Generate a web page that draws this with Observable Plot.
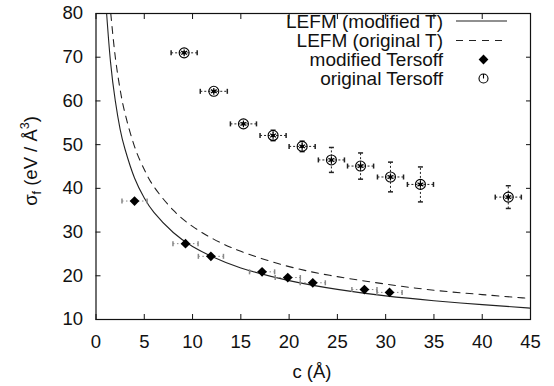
<!DOCTYPE html>
<html><head><meta charset="utf-8">
<script src="https://cdn.jsdelivr.net/npm/d3@7"></script>
<script src="https://cdn.jsdelivr.net/npm/@observablehq/plot@0.6"></script>
<style>body{margin:0;background:#fff} svg{font-family:"Liberation Sans",Arial,sans-serif}</style>
</head><body><div id="chart"></div>
<script>
// tick labels
const xTicks = [0, 5, 10, 15, 20, 25, 30, 35, 40, 45];
const yTicks = [10, 20, 30, 40, 50, 60, 70, 80];

// original Tersoff (circles)
const origC    = [9.13, 12.2, 15.27, 18.34, 21.35, 24.38, 27.4, 30.5, 33.6, 42.7];
const origS    = [71.0, 62.2, 54.75, 52.1, 49.6, 46.5, 45.1, 42.6, 40.9, 38.0];
const origXErr = [1.35, 1.4, 1.35, 1.35, 1.35, 1.35, 1.35, 1.35, 1.35, 1.35];
const origYErr = [0, 0, 0, 1.2, 1.2, 2.85, 3.0, 3.4, 4.0, 2.6];

// modified Tersoff (diamonds)
const modC    = [3.99, 9.27, 11.9, 17.2, 19.86, 22.45, 27.8, 30.4];
const modS    = [37.1, 27.35, 24.45, 20.9, 19.6, 18.4, 16.85, 16.2];
const modXErr = [1.3, 1.3, 1.3, 1.3, 1.3, 1.3, 1.3, 1.3];

// LEFM curves
const lefmModC = [1.1, 1.5, 2, 2.5, 3, 4, 5, 6, 8, 10, 12, 15, 20, 25, 30, 35, 40, 45];
const lefmModS = [80, 69, 60, 53.5, 49, 42.3, 37.8, 34.5, 29.9, 26.7, 24.4, 21.8, 18.9, 16.9, 15.4, 14.3, 13.4, 12.6];
const lefmOrigC = [1.53, 2, 2.5, 3, 4, 5, 6, 8, 10, 12, 15, 20, 25, 30, 35, 40, 45];
const lefmOrigS = [80, 70, 62.6, 57.2, 49.5, 44.3, 40.4, 35, 31.3, 28.6, 25.6, 22.1, 19.8, 18.1, 16.7, 15.7, 14.8];

const legendLabels = ["LEFM (modified T)", "LEFM (original T)", "modified Tersoff", "original Tersoff"];

const orig = origC.map((c, i) => ({c, s: origS[i], dx: origXErr[i], dy: origYErr[i]}));
const mod = modC.map((c, i) => ({c, s: modS[i], dx: modXErr[i]}));
const lm = lefmModC.map((c, i) => ({c, s: lefmModS[i]}));
const lo = lefmOrigC.map((c, i) => ({c, s: lefmOrigS[i]}));
const origY = orig.filter(d => d.dy > 0);

const vbar = {draw(ctx, size) { const h = Math.sqrt(size / Math.PI); ctx.moveTo(0, -h); ctx.lineTo(0, h); }};
const hbar = {draw(ctx, size) { const h = Math.sqrt(size / Math.PI); ctx.moveTo(-h, 0); ctx.lineTo(h, 0); }};

const W = 554, H = 386;
const svg = Plot.plot({
  width: W, height: H,
  marginLeft: 95.5, marginRight: 24, marginTop: 13, marginBottom: 67,
  style: {fontFamily: '"Liberation Sans", Arial, sans-serif', fontSize: "18.5px", background: "#fff", color: "#111"},
  x: {domain: [0, 45], label: null},
  y: {domain: [10, 80], label: null},
  marks: [
    Plot.axisX(xTicks, {anchor: "bottom", tickSize: 0, tickPadding: 15, fontSize: 18.5, label: null}),
    Plot.axisY(yTicks, {anchor: "left", tickSize: 0, tickPadding: 13, fontSize: 18.5, label: null}),
    Plot.axisX(xTicks, {anchor: "bottom", tickSize: -5, tickFormat: () => "", label: null}),
    Plot.axisX(xTicks, {anchor: "top", tickSize: -5, tickFormat: () => "", label: null}),
    Plot.axisY(yTicks, {anchor: "left", tickSize: -5, tickFormat: () => "", label: null}),
    Plot.axisY(yTicks, {anchor: "right", tickSize: -5, tickFormat: () => "", label: null}),
    // curves
    Plot.line(lm, {x: "c", y: "s", stroke: "#222", strokeWidth: 1.1, curve: "natural", clip: true}),
    Plot.line(lo, {x: "c", y: "s", stroke: "#222", strokeWidth: 1.1, strokeDasharray: "7,6", curve: "natural", clip: true}),
    // modified error bars
    Plot.link(mod, {x1: d => d.c - d.dx, x2: d => d.c + d.dx, y1: "s", y2: "s", stroke: "#888", strokeDasharray: "1.5,2.5", strokeWidth: 1}),
    Plot.dot(mod, {x: d => d.c - d.dx, y: "s", symbol: vbar, r: 2.5, stroke: "#888", fill: "none"}),
    Plot.dot(mod, {x: d => d.c + d.dx, y: "s", symbol: vbar, r: 2.5, stroke: "#888", fill: "none"}),
    Plot.dot(mod, {x: "c", y: "s", symbol: "diamond2", r: 4.4, fill: "#000", stroke: "none"}),
    // original error bars
    Plot.link(orig, {x1: d => d.c - d.dx, x2: d => d.c + d.dx, y1: "s", y2: "s", stroke: "#222", strokeDasharray: "2,2", strokeWidth: 1}),
    Plot.dot(orig, {x: d => d.c - d.dx, y: "s", symbol: vbar, r: 2.5, stroke: "#222", fill: "none"}),
    Plot.dot(orig, {x: d => d.c + d.dx, y: "s", symbol: vbar, r: 2.5, stroke: "#222", fill: "none"}),
    Plot.link(origY, {x1: "c", x2: "c", y1: d => d.s - d.dy, y2: d => d.s + d.dy, stroke: "#222", strokeDasharray: "2,2", strokeWidth: 1}),
    Plot.dot(origY, {x: "c", y: d => d.s - d.dy, symbol: hbar, r: 2.5, stroke: "#222", fill: "none"}),
    Plot.dot(origY, {x: "c", y: d => d.s + d.dy, symbol: hbar, r: 2.5, stroke: "#222", fill: "none"}),
    Plot.dot(orig, {x: "c", y: "s", symbol: "asterisk", r: 3.2, stroke: "#000", strokeWidth: 1.2}),
    Plot.dot(orig, {x: "c", y: "s", r: 1.8, fill: "#000"}),
    Plot.dot(orig, {x: "c", y: "s", r: 5, stroke: "#000", fill: "none", strokeWidth: 1.1}),
    Plot.frame({stroke: "#111", strokeWidth: 1.2})
  ]
});

const s = d3.select(svg);
// y label
const yl = s.append("text").attr("transform", "translate(37,161) rotate(-90)")
  .attr("text-anchor", "middle").attr("font-size", 18.5).attr("fill", "#111");
yl.append("tspan").text("σ");
yl.append("tspan").attr("font-size", 12.5).attr("dy", 4).text("f");
yl.append("tspan").attr("dy", -4).text(" (eV / Å");
yl.append("tspan").attr("font-size", 12.5).attr("dy", -8).text("3");
yl.append("tspan").attr("dy", 8).text(")");
// x label
s.append("text").attr("x", 312).attr("y", 378).attr("text-anchor", "middle")
  .attr("font-size", 18.5).attr("fill", "#111").text("c (Å)");

// legend
const rows = [21, 40.5, 59.5, 78.5];
const lg = s.append("g").attr("font-size", 19).attr("fill", "#111");
legendLabels.forEach((t, i) => {
  lg.append("text").attr("x", 443).attr("y", rows[i]).attr("dy", "0.35em").attr("text-anchor", "end").text(t);
});
lg.append("line").attr("x1", 456).attr("x2", 507).attr("y1", rows[0]).attr("y2", rows[0]).attr("stroke", "#222").attr("stroke-width", 1.1);
lg.append("line").attr("x1", 456).attr("x2", 507).attr("y1", rows[1]).attr("y2", rows[1]).attr("stroke", "#222").attr("stroke-width", 1.1).attr("stroke-dasharray", "7,6");
lg.append("path").attr("d", d3.symbol(d3.symbolDiamond2, Math.PI * 4.4 * 4.4)()).attr("transform", `translate(483.5,${rows[2]})`).attr("fill", "#000");
lg.append("circle").attr("cx", 483.5).attr("cy", rows[3]).attr("r", 4.5).attr("fill", "none").attr("stroke", "#000").attr("stroke-width", 1.1);
lg.append("line").attr("x1", 483.5).attr("x2", 483.5).attr("y1", rows[3]).attr("y2", rows[3] - 4.5).attr("stroke", "#000").attr("stroke-width", 1.1);

document.getElementById("chart").appendChild(svg);
</script></body></html>
